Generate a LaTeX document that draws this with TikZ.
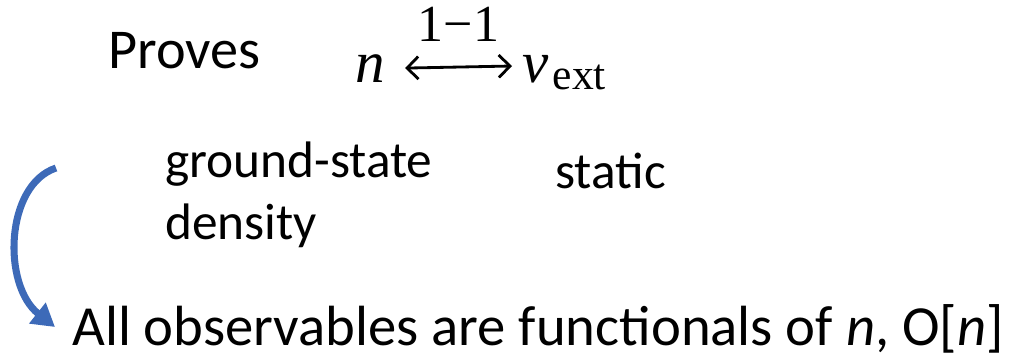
\documentclass[tikz,border=0pt]{standalone}
\usepackage{fontspec}
\setmainfont{Carlito}
\newfontfamily\tmsfont{Liberation Serif}
\usetikzlibrary{arrows.meta, positioning}

\definecolor{arrowblue}{RGB}{61,106,184}

\begin{document}
\begin{tikzpicture}[x=0.025cm, y=-0.025cm,
        txt/.style={inner sep=0pt, font=\fontsize{36.5}{44}\selectfont, align=left},
        big/.style={inner sep=0pt, font=\fontsize{40}{46}\selectfont},
        sym/.style={inner sep=0pt, font=\tmsfont\fontsize{42}{48}\selectfont},
        barb/.style={{Straight Barb[length=8pt, width=16pt]}-{Straight Barb[length=8pt, width=16pt]}, line width=2pt},
        curvearrow/.style={line width=5pt, draw=arrowblue, -{Triangle[length=16pt, width=18pt]}}
    ]
    \useasboundingbox (0,0) rectangle (1012,363);

    % top line
    \node [big, anchor=base west] (proves) at (108,68) {Proves};
    \node [sym, anchor=base west] (n) at (355,82) {\itshape n};
    \node [sym, anchor=base west] (vext) at (522,82) {\itshape v\kern3pt\raisebox{-5pt}{\upshape\fontsize{31}{34}\selectfont ext}};
    \draw [barb] (n.east) ++(20,0) coordinate (la) -- node[sym, above=17pt, font=\tmsfont\fontsize{37}{40}\selectfont] (lbl) {1−1} (512,66) coordinate (ra);

    % middle labels
    \node [txt, anchor=north west] (gs) at (165,142) {ground-state\\density};
    \node [txt, anchor=base west] (static) at (555,188) {static};

    % bottom line
    \node [big, anchor=base west, font=\fontsize{40.3}{46}\selectfont] (obs) at (72,345) {All observables are functionals of \textit{n}, O[\textit{n}]};

    % curved arrow
    \coordinate (from) at (56,168);
    \coordinate (to) at (55,327);
    \draw [curvearrow] (from) .. controls (5,185) and (2,285) .. (to);
\end{tikzpicture}
\end{document}
